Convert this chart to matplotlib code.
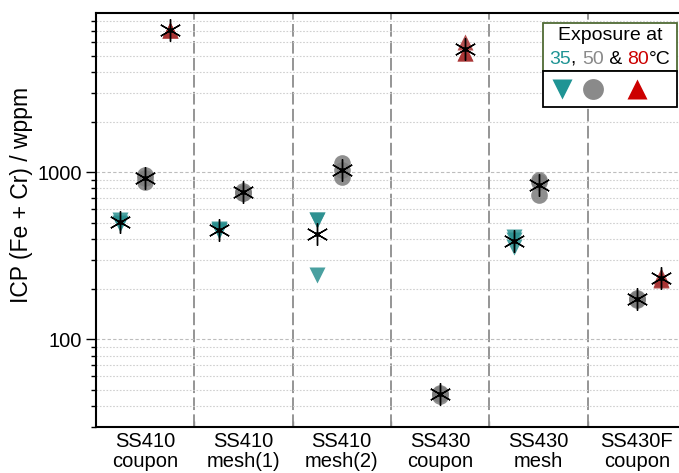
import numpy as np
import matplotlib
matplotlib.use('Agg')
import matplotlib.pyplot as plt
from matplotlib.lines import Line2D
from matplotlib.patches import Rectangle
from matplotlib.ticker import FixedLocator, NullFormatter, FixedFormatter
from matplotlib.offsetbox import TextArea, HPacker, AnchoredOffsetbox

plt.rcParams['font.family'] = ['Liberation Sans', 'DejaVu Sans']

# Probenbezeichnungen
groups = ['SS410\ncoupon', 'SS410\nmesh(1)', 'SS410\nmesh(2)',
          'SS430\ncoupon', 'SS430\nmesh', 'SS430F\ncoupon']

# ICP-Werte (Fe + Cr) in wppm, Einzelmessungen je Probe
w35 = [[520, 490, 495], [460, 445, 450], [515, 515, 243],
       [], [410, 395, 355], []]
w50 = [[960, 920, 880], [770, 750, 755], [1130, 1030, 940],
       [48, 46, 47], [900, 880, 735], [176, 172, 174]]
w80 = [[7150, 7100, 7100], [], [],
       [6050, 5180, 5180], [], [240, 228, 230]]
temps = ['35', '50', '80']

# Darstellung
c_plot = ['#2a8f8f', '#7c7c7c', '#a83232']
c_leg = ['#1f9494', '#8a8a8a', '#cc0000']
markers = ['v', 'o', '^']
shift = [-0.25, 0.0, 0.25]

W, H = 679, 473
fig = plt.figure(figsize=(W/100, H/100), dpi=100)
ax = fig.add_axes([95.7/W, 1-426.7/H, 590.4/W, (426.7-13.3)/H])

for k, data in enumerate([w35, w50, w80]):
    for i, v in enumerate(data):
        if not v:
            continue
        x = np.full(len(v), i + shift[k])
        ax.plot(x, v, ls='none', marker=markers[k], ms=12, color=c_plot[k],
                alpha=0.85, mec='none', zorder=3)
        ax.plot(i + shift[k], np.mean(v), ls='none', marker=(6, 2, 0), ms=16,
                mec='black', mew=1.0, zorder=4)
        ax.plot(i + shift[k], np.mean(v), ls='none', marker='o', ms=2.5,
                color='black', zorder=5)

ax.set_yscale('log')
ax.set_ylim(30, 8950)
ax.set_xlim(-0.5, 5.5)

for s in np.arange(0.5, 5, 1):
    ax.axvline(s, color='#8c8c8c', lw=1.3, ls=(0, (7, 2.4)), zorder=1)

ax.yaxis.set_major_locator(FixedLocator([100, 1000]))
ax.yaxis.set_major_formatter(FixedFormatter(['100', '1000']))
ax.yaxis.set_minor_locator(FixedLocator([m*d for d in [10, 100, 1000] for m in range(2, 10)]))
ax.yaxis.set_minor_formatter(NullFormatter())
ax.grid(True, which='major', axis='y', color='#bdbdbd', ls=(0, (3, 2)), lw=0.8, zorder=0)
ax.grid(True, which='minor', axis='y', color='#d0d0d0', ls=(0, (1.5, 1.5)), lw=0.8, zorder=0)
ax.tick_params(axis='y', which='major', length=7, width=1, labelsize=14.5, pad=3)
ax.tick_params(axis='y', which='minor', length=3.6, width=1)

ax.xaxis.set_major_locator(FixedLocator(np.arange(0.5, 5, 1)))
ax.xaxis.set_major_formatter(NullFormatter())
ax.xaxis.set_minor_locator(FixedLocator(range(len(groups))))
ax.xaxis.set_minor_formatter(FixedFormatter(groups))
ax.tick_params(axis='x', which='major', direction='in', length=4, width=1, color='#8c8c8c')
ax.tick_params(axis='x', which='minor', length=0, labelsize=14.5, pad=4)
for lab in ax.get_xticklabels(minor=True):
    lab.set_linespacing(1.05)

for sp in ax.spines.values():
    sp.set_linewidth(1.5)

ax.set_ylabel('ICP (Fe + Cr) / wppm', fontsize=16.5)
ax.yaxis.set_label_coords(-0.106, 0.56)

# Legende (von Hand gezeichnet)
def fx(px):
    return px / W

def fy(py):
    return 1 - py / H

fig.add_artist(Rectangle((fx(543.3), fy(70.7)), fx(676.7) - fx(543.3), fy(22.7) - fy(70.7),
                         transform=fig.transFigure, facecolor='white', edgecolor='#4f6a34',
                         lw=1.3, zorder=10))
fig.add_artist(Rectangle((fx(543.3), fy(106.7)), fx(676.7) - fx(543.3), fy(70.7) - fy(106.7),
                         transform=fig.transFigure, facecolor='white', edgecolor='black',
                         lw=1.3, zorder=10))
fig.text(fx(610), fy(35), 'Exposure at', fontsize=14, ha='center', va='center', zorder=11)

parts = [TextArea(temps[0], textprops=dict(color=c_leg[0], fontsize=14)),
         TextArea(', ', textprops=dict(color='black', fontsize=14)),
         TextArea(temps[1], textprops=dict(color=c_leg[1], fontsize=14)),
         TextArea(' & ', textprops=dict(color='black', fontsize=14)),
         TextArea(temps[2], textprops=dict(color=c_leg[2], fontsize=14)),
         TextArea('°C', textprops=dict(color='black', fontsize=14))]
line2 = HPacker(children=parts, align='baseline', pad=0, sep=0)
ab = AnchoredOffsetbox(loc='center', child=line2, frameon=False, pad=0, borderpad=0,
                       bbox_to_anchor=(fx(610), fy(59.3)), bbox_transform=fig.transFigure)
ab.set_zorder(11)
fig.add_artist(ab)

for k, px in enumerate([561.7, 593.3, 637.3]):
    fig.add_artist(Line2D([fx(px)], [fy(89)], transform=fig.transFigure, ls='none',
                          marker=markers[k], ms=15, color=c_leg[k], mec='none', zorder=11))

fig.savefig('out.png', dpi=100)
